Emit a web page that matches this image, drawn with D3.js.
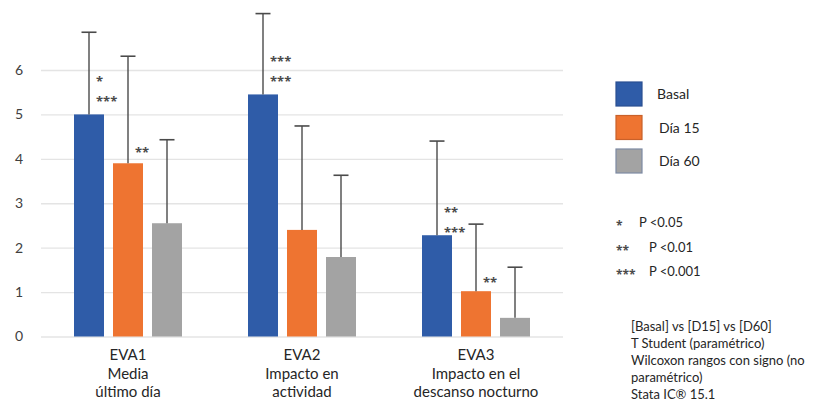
<!DOCTYPE html>
<html>
<head>
<meta charset="utf-8">
<script src="https://cdn.jsdelivr.net/npm/d3@7"></script>
<style>
  body { margin: 0; background: #fff; }
  svg { font-family: Lato, "Open Sans", sans-serif; }
  .stars { font-family: "Open Sans", sans-serif; font-weight: bold; }
</style>
</head>
<body>
<div class="barchart"></div>
<script>
// data
var categories = ["EVA1", "EVA2", "EVA3"];
var catLines = [["EVA1", "Media", "último día"], ["EVA2", "Impacto en", "actividad"], ["EVA3", "Impacto en el", "descanso nocturno"]];
var series = ["Basal", "Día 15", "Día 60"];
var basal = [5.0, 5.45, 2.28];
var dia15 = [3.9, 2.4, 1.02];
var dia60 = [2.55, 1.79, 0.42];
var basalErr = [1.85, 1.82, 2.12];
var dia15Err = [2.41, 2.34, 1.51];
var dia60Err = [1.88, 1.84, 1.14];
var yTicks = [0, 1, 2, 3, 4, 5, 6];

// significance stars: category, series, text, height (data units)
var starCat = [0, 0, 0, 1, 1, 2, 2, 2];
var starSer = [0, 0, 1, 0, 0, 0, 0, 1];
var starText = ["*", "***", "**", "***", "***", "**", "***", "**"];
var starY = [5.84, 5.39, 4.24, 6.29, 5.84, 2.89, 2.44, 1.32];

var pLabels = ["*", "**", "***"];
var pTexts = ["P <0.05", "P <0.01", "P <0.001"];
var notes = ["[Basal] vs [D15] vs [D60]", "T Student  (paramétrico)", "Wilcoxon rangos con signo (no", "paramétrico)", "Stata IC® 15.1"];

var colors = ["#2f5ca8", "#ee7431", "#a3a3a3"];
var borders = ["#2a4f92", "#c9612a", "#7d8aa3"];

var values = [basal, dia15, dia60];
var errs = [basalErr, dia15Err, dia60Err];

var W = 821, H = 412;
var svg = d3.select(".barchart").append("svg")
    .attr("width", W).attr("height", H);

var x0 = d3.scaleBand().domain(categories).range([41, 563]);
var x1 = d3.scaleBand().domain(series)
    .range([x0.bandwidth() / 2 - 54, x0.bandwidth() / 2 + 54])
    .paddingInner(9 / 39);
var y = d3.scaleLinear().domain([0, 6]).range([336.5, 70]);

// grid + tick labels
var yAxis = d3.axisLeft(y).tickValues(yTicks).tickSize(-(563 - 41)).tickPadding(18).tickFormat(d3.format("d"));
svg.append("g")
    .attr("transform", "translate(41,0)")
    .call(yAxis)
    .call(function (g) {
        g.select(".domain").remove();
        g.selectAll("line").attr("stroke", "#e4e4e4").attr("stroke-width", 1.3);
        g.selectAll("text").attr("fill", "#404040").style("font-size", "14px").attr("font-family", "Lato, sans-serif");
    });

// bars
var rows = [];
categories.forEach(function (c, i) {
    series.forEach(function (s, j) {
        rows.push({ cat: c, ser: s, si: j, v: values[j][i], e: errs[j][i] });
    });
});

var groups = svg.selectAll(".grp").data(rows).enter().append("g")
    .attr("transform", function (d) { return "translate(" + x0(d.cat) + ",0)"; });

groups.append("rect")
    .attr("x", function (d) { return x1(d.ser); })
    .attr("y", function (d) { return y(d.v); })
    .attr("width", x1.bandwidth())
    .attr("height", function (d) { return y(0) - y(d.v); })
    .attr("fill", function (d) { return colors[d.si]; });

// error bars (plus only)
groups.append("line")
    .attr("x1", function (d) { return x1(d.ser) + x1.bandwidth() / 2; })
    .attr("x2", function (d) { return x1(d.ser) + x1.bandwidth() / 2; })
    .attr("y1", function (d) { return y(d.v); })
    .attr("y2", function (d) { return y(d.v + d.e); })
    .attr("stroke", "#4a4a4a").attr("stroke-width", 1.4);
groups.append("line")
    .attr("x1", function (d) { return x1(d.ser) + x1.bandwidth() / 2 - 7.5; })
    .attr("x2", function (d) { return x1(d.ser) + x1.bandwidth() / 2 + 7.5; })
    .attr("y1", function (d) { return y(d.v + d.e); })
    .attr("y2", function (d) { return y(d.v + d.e); })
    .attr("stroke", "#4a4a4a").attr("stroke-width", 1.6);

// stars
svg.selectAll(".star").data(starText).enter().append("text")
    .attr("class", "stars")
    .attr("x", function (d, i) { return x0(categories[starCat[i]]) + x1(series[starSer[i]]) + x1.bandwidth() / 2 + 7; })
    .attr("y", function (d, i) { return y(starY[i]) + 9; })
    .attr("fill", "#4a4a4a")
    .style("font-size", "13px")
    .text(function (d) { return d; });

// category labels
catLines.forEach(function (lines, i) {
    var t = svg.append("text")
        .attr("text-anchor", "middle")
        .attr("fill", "#262626")
        .style("font-size", "15px");
    lines.forEach(function (l, k) {
        t.append("tspan")
            .attr("x", x0(categories[i]) + x0.bandwidth() / 2)
            .attr("y", 360 + k * 18.5)
            .text(l);
    });
});

// legend
var legend = svg.selectAll(".legend").data(series).enter().append("g")
    .attr("transform", function (d, i) { return "translate(616," + (82 + i * 33.5) + ")"; });
legend.append("rect")
    .attr("width", 26).attr("height", 24)
    .attr("fill", function (d, i) { return colors[i]; })
    .attr("stroke", function (d, i) { return borders[i]; })
    .attr("stroke-width", 1.2);
legend.append("text")
    .attr("x", function (d, i) { return i == 0 ? 41 : 43; })
    .attr("y", 17)
    .attr("fill", "#262626")
    .style("font-size", "14px")
    .text(function (d) { return d; });

// p-value key
var pk = svg.selectAll(".pkey").data(pTexts).enter().append("g")
    .attr("transform", function (d, i) { return "translate(616," + (227 + i * 24.5) + ")"; });
pk.append("text")
    .attr("class", "stars")
    .attr("y", 3)
    .attr("fill", "#4a4a4a")
    .style("font-size", "12px")
    .text(function (d, i) { return pLabels[i]; });
pk.append("text")
    .attr("x", function (d, i) { return i == 0 ? 23 : 33; })
    .attr("fill", "#262626")
    .style("font-size", "13px")
    .text(function (d) { return d; });

svg.selectAll(".note").data(notes).enter().append("text")
    .attr("x", 631)
    .attr("y", function (d, i) { return 331 + i * 17; })
    .attr("fill", "#262626")
    .style("font-size", "13px")
    .text(function (d) { return d; });
</script>
</body>
</html>
